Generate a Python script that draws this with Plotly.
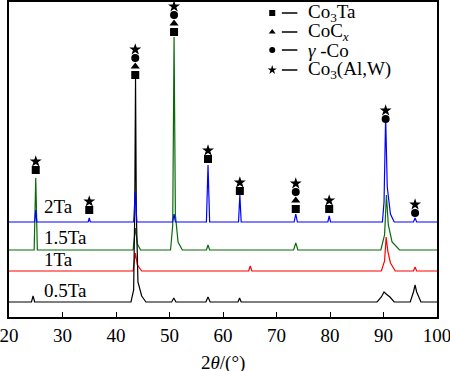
import plotly.graph_objects as go

# ---- data: XRD profiles (2θ, intensity above each pattern's baseline) ----
ta05_2theta = [20, 24.2, 24.5, 24.8, 42.8, 43.3, 43.5, 43.65, 43.8, 44.1, 44.8, 45.6,
               50.4, 50.8, 51.2, 56.8, 57.2, 57.6, 62.8, 63.1, 63.4,
               88.8, 89.6, 90.1, 90.5, 91.2, 92.0, 95.0, 95.6, 95.9, 96.2, 97.0, 100]
ta05_int = [0, 0, 6, 0, 0, 12, 90, 224, 90, 20, 6, 0,
            0, 4, 0, 0, 5, 0, 0, 4, 0,
            0, 5, 10, 8, 5, 0, 0, 10, 17, 10, 0, 0]

ta1_2theta = [20, 43.2, 43.6, 44.0, 44.8, 64.8, 65.1, 65.4,
              89.6, 90.2, 90.5, 90.8, 91.3, 92.2, 95.6, 95.9, 96.2, 100]
ta1_int = [0, 0, 18, 6, 0, 0, 5, 0,
           0, 10, 34, 20, 8, 0, 0, 4, 0, 0]

ta15_2theta = [20, 24.7, 25.0, 25.3, 43.2, 43.6, 44.0, 44.6,
               50.2, 50.6, 50.85, 51.1, 51.6, 52.4, 56.9, 57.2, 57.5,
               73.2, 73.6, 74.0, 89.5, 90.2, 90.55, 90.9, 91.6, 93.0, 100]
ta15_int = [0, 0, 72, 0, 0, 22, 6, 0,
            0, 25, 213, 35, 8, 0, 0, 5, 0,
            0, 7, 0, 0, 15, 55, 25, 8, 0, 0]

ta2_2theta = [20, 24.8, 25.0, 25.2, 34.8, 35.0, 35.2, 43.3, 43.6, 43.9,
              50.6, 50.85, 51.1, 56.9, 57.2, 57.5, 62.9, 63.15, 63.4,
              73.3, 73.6, 73.9, 79.6, 79.85, 80.1,
              89.8, 90.1, 90.4, 90.7, 91.3, 92.0, 95.6, 95.9, 96.2, 100]
ta2_int = [0, 0, 12, 0, 0, 4, 0, 0, 30, 0,
           0, 8, 0, 0, 57, 0, 0, 27, 0,
           0, 8, 0, 0, 6, 0,
           0, 20, 105, 35, 8, 0, 0, 4, 0, 0]

sample_labels = ["0.5Ta", "1Ta", "1.5Ta", "2Ta"]

# phase marks above peaks (S=Co3Ta, T=CoCx, C=γ-Co, X=Co3(Al,W)), bottom to top
mark_2theta = [25.0, 35.0, 43.6, 50.85, 57.2, 63.15, 73.6, 79.85, 90.4, 95.9]
mark_phases = ["SX", "SX", "STCX", "STCX", "SX", "SX", "STCX", "SX", "CX", "CX"]

phase_names = ["Co<sub>3</sub>Ta", "CoC<sub><i>x</i></sub>", "<i>γ</i> -Co", "Co<sub>3</sub>(Al,W)"]
x_ticks = [20, 30, 40, 50, 60, 70, 80, 90, 100]

# ---- styling / layout ----
FONT = "Liberation Serif, Times New Roman, serif"
offsets = {"0.5Ta": 15, "1Ta": 46, "1.5Ta": 67, "2Ta": 95}
colors = {"0.5Ta": "#000000", "1Ta": "#ff0000", "1.5Ta": "#0a6a0a", "2Ta": "#0000ff"}
series = {"0.5Ta": (ta05_2theta, ta05_int), "1Ta": (ta1_2theta, ta1_int),
          "1.5Ta": (ta15_2theta, ta15_int), "2Ta": (ta2_2theta, ta2_int)}
sym = {"S": "square", "T": "triangle-up", "C": "circle", "X": "star"}
msize = {"S": 8, "T": 8, "C": 8, "X": 9}
mark_base = [147, 107, 242, 285, 158, 126, 108, 108, 198, 104]  # y of lowest mark
label_y = {"0.5Ta": 27, "1Ta": 58, "1.5Ta": 80, "2Ta": 111}

fig = go.Figure()
for name in ["1Ta", "1.5Ta", "0.5Ta", "2Ta"]:
    xs, ys = series[name]
    fig.add_trace(go.Scatter(x=xs, y=[v + offsets[name] for v in ys], mode="lines",
                             line=dict(color=colors[name], width=1.2), hoverinfo="skip"))

for x0, ph, yb in zip(mark_2theta, mark_phases, mark_base):
    for i, p in enumerate(ph):
        fig.add_trace(go.Scatter(x=[x0], y=[yb + i * 8.5], mode="markers",
                                 marker=dict(symbol=sym[p], size=msize[p], color="black",
                                             line=dict(width=0))))

# legend (drawn manually)
leg_y = [304, 285, 267, 247]
for p, yy, txt in zip("STCX", leg_y, phase_names):
    fig.add_trace(go.Scatter(x=[69.2], y=[yy], mode="markers",
                             marker=dict(symbol=sym[p], size=6 if p != "X" else 7,
                                         color="black", line=dict(width=0))))
    fig.add_shape(type="line", x0=71.0, x1=73.9, y0=yy, y1=yy,
                  line=dict(color="black", width=1.5))
    fig.add_annotation(x=75.6, y=yy, text=txt, showarrow=False, xanchor="left",
                       yanchor="middle", font=dict(family=FONT, size=19, color="black"))

for name in sample_labels:
    fig.add_annotation(x=26.2, y=label_y[name], text=name, showarrow=False,
                       xanchor="left", yanchor="middle",
                       font=dict(family=FONT, size=19, color="black"))

fig.add_annotation(x=0.5, y=-0.106, xref="paper", yref="paper", text="2<i>θ</i>/(°)",
                   showarrow=False, xanchor="center", yanchor="top",
                   font=dict(family=FONT, size=19, color="black"))

fig.update_layout(
    width=450, height=371, showlegend=False,
    margin=dict(l=9, r=13, t=2, b=54, autoexpand=False),
    plot_bgcolor="white", paper_bgcolor="white",
    xaxis=dict(range=[20, 100], tickvals=x_ticks, ticks="inside", ticklen=5,
               tickwidth=1, tickcolor="black", showgrid=False, zeroline=False,
               showline=True, linecolor="black", linewidth=1.5, mirror=True,
               automargin=False, ticklabeloverflow="allow",
               tickfont=dict(family=FONT, size=19, color="black")),
    yaxis=dict(range=[0, 315], showticklabels=False, ticks="", showgrid=False,
               zeroline=False, showline=True, linecolor="black", linewidth=1.5,
               mirror=True, automargin=False),
)
fig.write_html("out.html", config={"displayModeBar": False},
               post_script="document.body.style.margin='0';document.body.style.overflow='hidden';")
